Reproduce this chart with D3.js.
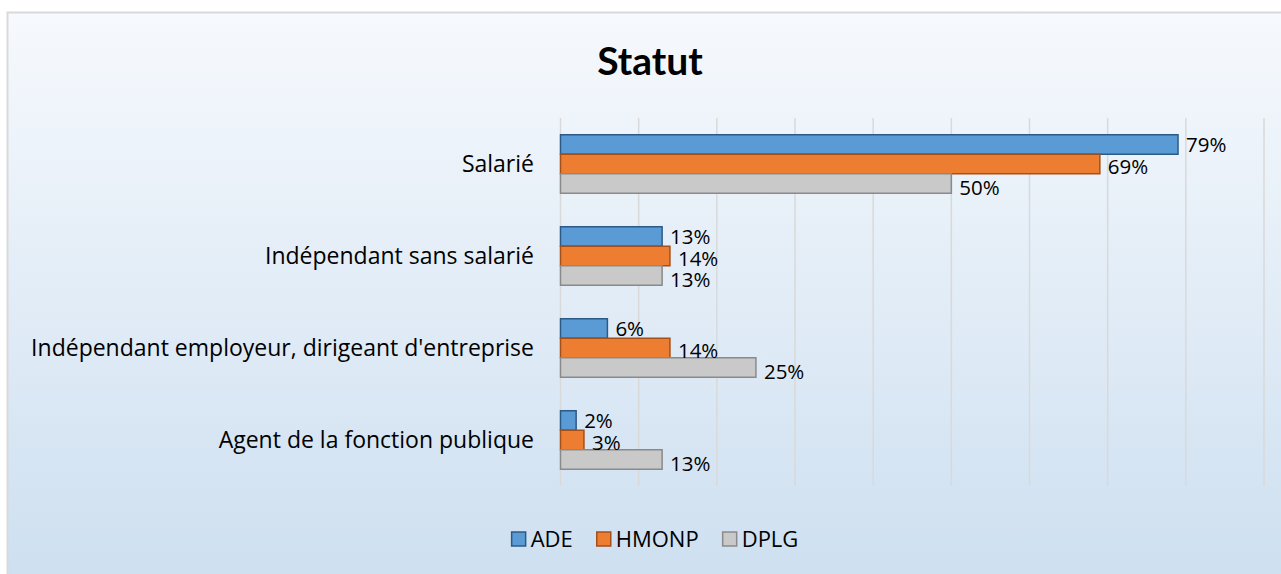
<!DOCTYPE html>
<html>
<head>
<meta charset="utf-8">
<script src="https://cdn.jsdelivr.net/npm/d3@7"></script>
<style>
  body { margin: 0; background: #ffffff; }
  svg { display: block; }
  text { font-family: "Open Sans", Lato, sans-serif; fill: #000; }
</style>
</head>
<body>
<div id="chart"></div>
<script>
// categories, top to bottom
const categories = [
  "Salarié",
  "Indépendant sans salarié",
  "Indépendant employeur, dirigeant d'entreprise",
  "Agent de la fonction publique"
];
const seriesNames = ["ADE", "HMONP", "DPLG"];
const ade = [0.79, 0.13, 0.06, 0.02];
const hmonp = [0.69, 0.14, 0.14, 0.03];
const dplg = [0.50, 0.13, 0.25, 0.13];
const xTicks = [0, 0.1, 0.2, 0.3, 0.4, 0.5, 0.6, 0.7, 0.8, 0.9];

const fills = ["#5b9bd5", "#ed7d31", "#c9c9c9"];
const strokes = ["#2c5a87", "#a3501a", "#8a8a8a"];
const labelShift = [0, 2.5, 4];

const width = 1281, height = 574;

const svg = d3.select("#chart").append("svg")
  .attr("width", width)
  .attr("height", height);

const defs = svg.append("defs");
const grad = defs.append("linearGradient")
  .attr("id", "bg").attr("x1", 0).attr("y1", 0).attr("x2", 0).attr("y2", 1);
grad.append("stop").attr("offset", "0%").attr("stop-color", "#f6f9fd");
grad.append("stop").attr("offset", "100%").attr("stop-color", "#cddff0");

// chart area frame, runs off the right and bottom edges
svg.append("rect")
  .attr("x", 7.5).attr("y", 12.5)
  .attr("width", 1290).attr("height", 575)
  .attr("fill", "url(#bg)")
  .attr("stroke", "#d9d9d9")
  .attr("stroke-width", 2);

svg.append("text")
  .attr("x", 650).attr("y", 75)
  .attr("text-anchor", "middle")
  .style("font-family", "Lato, sans-serif")
  .style("font-size", "39px")
  .style("font-weight", "bold")
  .text("Statut");

const x = d3.scaleLinear().domain([0, 0.9]).range([560.5, 1264]);
const y = d3.scaleBand().domain(categories).range([118, 486])
  .paddingInner(0.364).paddingOuter(0.182);
const ySeries = d3.scaleBand().domain(seriesNames).range([0, y.bandwidth()]);

// vertical gridlines
svg.append("g")
  .selectAll("line")
  .data(xTicks)
  .join("line")
  .attr("x1", d => x(d)).attr("x2", d => x(d))
  .attr("y1", 118).attr("y2", 486)
  .attr("stroke", "#d9d9d9")
  .attr("stroke-width", 1.5);

// category labels
svg.append("g")
  .selectAll("text")
  .data(categories)
  .join("text")
  .attr("x", 534)
  .attr("y", d => y(d) + y.bandwidth() / 2)
  .attr("dy", "0.35em")
  .attr("text-anchor", "end")
  .style("font-size", "23px")
  .text(d => d);

const series = [ade, hmonp, dplg];
const rows = [];
series.forEach((vals, s) => {
  vals.forEach((v, i) => {
    rows.push({ cat: categories[i], name: seriesNames[s], s: s, value: v });
  });
});

const bars = svg.append("g");
bars.selectAll("rect")
  .data(rows)
  .join("rect")
  .attr("x", x(0))
  .attr("y", d => y(d.cat) + ySeries(d.name))
  .attr("width", d => x(d.value) - x(0))
  .attr("height", ySeries.bandwidth())
  .attr("fill", d => fills[d.s])
  .attr("stroke", d => strokes[d.s])
  .attr("stroke-width", 1.5);

bars.selectAll("text")
  .data(rows)
  .join("text")
  .attr("x", d => x(d.value) + 8)
  .attr("y", d => y(d.cat) + ySeries(d.name) + ySeries.bandwidth() / 2 + labelShift[d.s])
  .attr("dy", "0.35em")
  .style("font-size", "20.5px")
  .text(d => Math.round(d.value * 100) + "%");

// legend
const legend = svg.append("g");
const items = legend.selectAll("g")
  .data(seriesNames)
  .join("g");
items.append("rect")
  .attr("width", 14).attr("height", 14)
  .attr("y", 532)
  .attr("fill", (d, i) => fills[i])
  .attr("stroke", (d, i) => strokes[i])
  .attr("stroke-width", 1.5);
items.append("text")
  .attr("x", 19)
  .attr("y", 539)
  .attr("dy", "0.35em")
  .style("font-size", "22px")
  .text(d => d);

let offset = 0;
const positions = [];
items.each(function() {
  const w = d3.select(this).select("text").node().getComputedTextLength();
  positions.push(offset);
  offset += 19 + w + 24;
});
const total = offset - 24;
const startX = 655 - total / 2;
items.attr("transform", (d, i) => `translate(${startX + positions[i]},0)`);
</script>
</body>
</html>
